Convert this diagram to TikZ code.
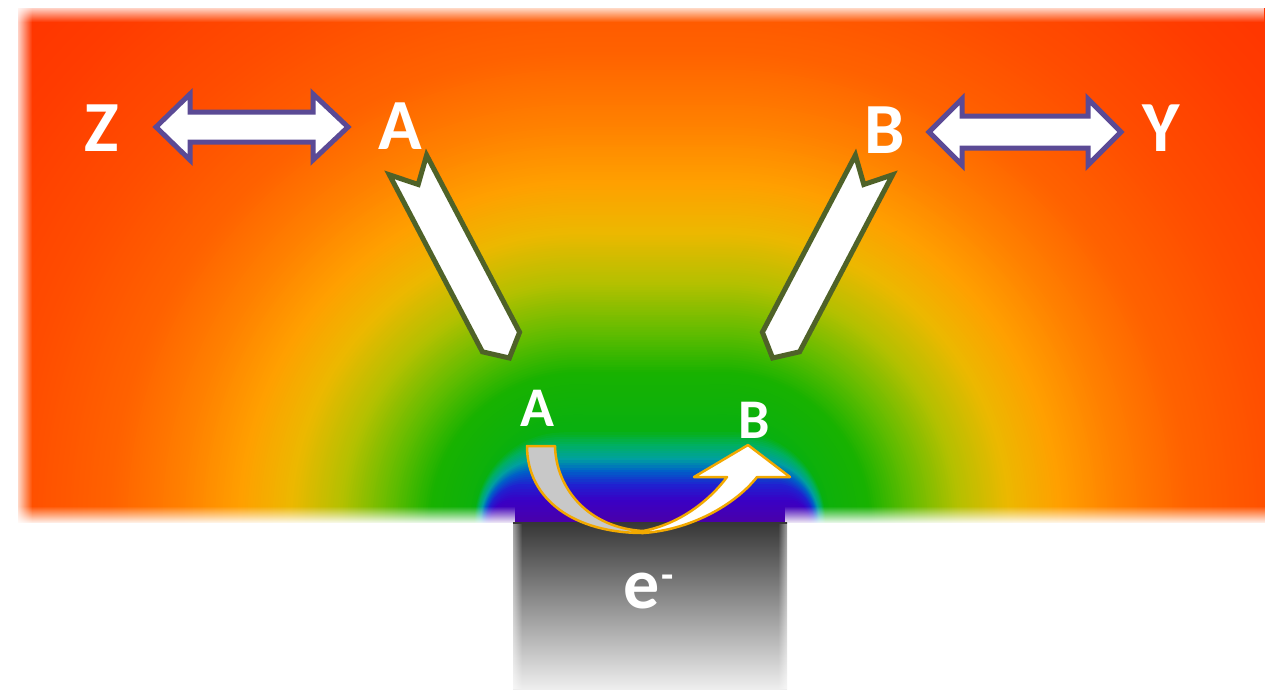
\documentclass[tikz,border=0pt]{standalone}
\usepackage{fontspec}
\newfontfamily\carl{Carlito}
\usetikzlibrary{fadings}
\definecolor{c0}{HTML}{4B00A8}
\definecolor{c1}{HTML}{3A00C4}
\definecolor{c2}{HTML}{2020D0}
\definecolor{c3}{HTML}{0060C8}
\definecolor{c4}{HTML}{00A0A0}
\definecolor{c5}{HTML}{00B060}
\definecolor{c6}{HTML}{08B010}
\definecolor{c7}{HTML}{18B200}
\definecolor{c8}{HTML}{60BC00}
\definecolor{c9}{HTML}{B4C000}
\definecolor{cA}{HTML}{ECB800}
\definecolor{cB}{HTML}{FFA000}
\definecolor{cC}{HTML}{FF8000}
\definecolor{cD}{HTML}{FF6200}
\definecolor{cE}{HTML}{FF4E00}
\definecolor{cF}{HTML}{FF3C00}
\definecolor{cG}{HTML}{FF3000}
\definecolor{dblpurple}{HTML}{5B4A95}
\definecolor{arrgreen}{HTML}{4F6228}
\definecolor{curvgold}{HTML}{F2A900}
\definecolor{curvgray}{HTML}{C8C8C8}
\definecolor{blkA}{HTML}{363636}
\definecolor{blkB}{HTML}{5A5A5A}
\definecolor{blkC}{HTML}{EEEEEE}
\newcommand\gband[4]{%
  \pgfmathtruncatemacro\gN{max(1,round((#2-#1)/2.5))}%
  \foreach \i in {0,...,\gN}{%
    \pgfmathsetmacro\gv{#2-\i/\gN*(#2-#1)}%
    \pgfmathtruncatemacro\gp{round((\gv-#1)/(#2-#1)*100)}%
    \pgfmathsetmacro\gs{\gv<110 ? 155+\gv/110*25-\gv : 70}%
    \pgfmathsetmacro\gr{max(\gv,0.01)}%
    \colorlet{gc}{#4!\gp!#3}%
    \fill[gc] (650-\gs,522-\gr) rectangle (650+\gs,522+\gr);
    \fill[gc] (650-\gs,522) circle[radius=\gr pt];
    \fill[gc] (650+\gs,522) circle[radius=\gr pt];
  }}
\begin{document}
\begin{tikzpicture}[x=1pt,y=-1pt,
  lbl/.style={text=white, inner sep=0pt, font=\carl\bfseries\fontsize{72}{72}\selectfont},
  smalllbl/.style={lbl, font=\carl\bfseries\fontsize{56}{56}\selectfont},
  dbl/.style={draw=dblpurple, fill=white, line width=5pt, line join=miter},
  diag/.style={draw=arrgreen, fill=white, line width=5pt, line join=miter},
  curv/.style={draw=curvgold, line width=2.5pt, line join=round}]
\useasboundingbox (0,0) rectangle (1265,689);
\fill[white] (0,0) rectangle (1265,689);
% gradient field
\begin{scope}
\clip (18,8) rectangle (1265,522);
\gband{680}{800}{cF}{cG}
\gband{560}{680}{cE}{cF}
\gband{470}{560}{cD}{cE}
\gband{400}{470}{cC}{cD}
\gband{340}{400}{cB}{cC}
\gband{290}{340}{cA}{cB}
\gband{240}{290}{c9}{cA}
\gband{190}{240}{c8}{c9}
\gband{150}{190}{c7}{c8}
\gband{92}{150}{c6}{c7}
\gband{78}{92}{c5}{c6}
\gband{64}{78}{c4}{c5}
\gband{52}{64}{c3}{c4}
\gband{38}{52}{c2}{c3}
\gband{22}{38}{c1}{c2}
\gband{0}{22}{c0}{c1}
\end{scope}
% soft edges
\fill[white, path fading=east] (14,0) rectangle (32,530);
\fill[white, path fading=south] (0,4) rectangle (1265,22);
\fill[white, path fading=north] (0,506) rectangle (515,524);
\fill[white, path fading=north] (785,506) rectangle (1265,524);
% electrode block
\shade[top color=blkA, middle color=blkB, bottom color=blkC] (513,522) rectangle (787,689);
\fill[white, path fading=east] (505,524) rectangle (522,689);
\fill[white, path fading=west] (778,524) rectangle (795,689);
% double arrows
\draw[dbl] (156,127) -- (190,94) -- (190,112) -- (313,112) -- (313,94) -- (348,127)
  -- (313,160) -- (313,142) -- (190,142) -- (190,160) -- cycle;
\draw[dbl] (929,132) -- (962,99) -- (962,116) -- (1088,116) -- (1088,99) -- (1121,132)
  -- (1088,165) -- (1088,148) -- (962,148) -- (962,165) -- cycle;
% diagonal arrows
\draw[diag] (389.4,174.8) -- (418.2,184.5) -- (426.6,155.2) -- (519.6,332.2)
  -- (509.4,358) -- (482.4,351.8) -- cycle;
\draw[diag] (892.6,174.8) -- (863.8,184.5) -- (855.4,155.2) -- (762.4,332.2)
  -- (772.6,358) -- (799.6,351.8) -- cycle;
% curved arrow
\draw[curv, fill=curvgray] (527,446) -- (555,446) .. controls (556,490) and (590,528) .. (643,531)
  -- (643,533) .. controls (575,533) and (527,500) .. (527,446) -- cycle;
\draw[curv, fill=white] (643,533) .. controls (690,530) and (735,505) .. (757,477) -- (790,477)
  -- (748,445) -- (694,477) -- (727,477) .. controls (710,500) and (680,524) .. (643,531) -- cycle;
% labels
\node[lbl] (Z) at (102,128) {Z};
\node[lbl] (At) at (400,126) {A};
\node[lbl] (Bt) at (885,130) {B};
\node[lbl] (Y) at (1161,128) {Y};
\node[smalllbl] (Ab) at (537,408) {A};
\node[smalllbl] (Bb) at (754,420) {B};
\node[lbl, anchor=base west] (el) at (623,608) {e\hspace{2pt}\raisebox{20pt}{\fontsize{40}{40}\selectfont -}};
\end{tikzpicture}
\end{document}
